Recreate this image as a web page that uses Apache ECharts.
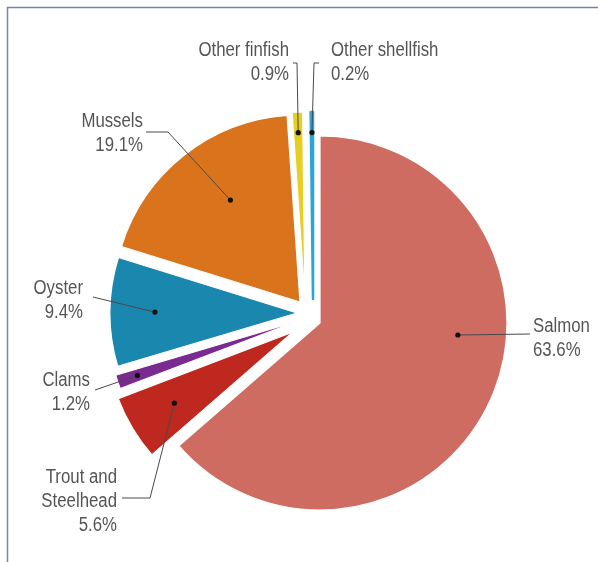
<!DOCTYPE html>
<html>
<head>
<meta charset="utf-8">
<script src="https://cdn.jsdelivr.net/npm/echarts@6/dist/echarts.min.js"></script>
<style>
  html, body { margin: 0; padding: 0; background: #ffffff; }
  #chart { width: 598px; height: 562px; }
</style>
</head>
<body>
<div id="chart"></div>
<script>
// Aquaculture production share by species group (percent)
const categories = ['Salmon', 'Trout and Steelhead', 'Clams', 'Oyster', 'Mussels', 'Other finfish', 'Other shellfish'];
const shares = [63.6, 5.6, 1.2, 9.4, 19.1, 0.9, 0.2];
const labelLines = [['Salmon'], ['Trout and', 'Steelhead'], ['Clams'], ['Oyster'], ['Mussels'], ['Other finfish'], ['Other shellfish']];

const colors = ['#cf6c62', '#bf281e', '#7a2b90', '#1a87ae', '#d9741c', '#e4cf22', '#2aa5d9'];

// Pie geometry: radius, and where each pulled-out wedge has its tip
const R = 187;
const layout = [
  { apex: [320, 323], dotR: 0.74, dotTurn: -19.5, text: { x: 533, y: 338, align: 'left' },  guide: [[530, 334]] },
  { apex: [293, 332], dotR: 0.74, dotTurn: 0,     text: { x: 117, y: 501, align: 'right' }, guide: [[150, 498], [122, 498]] },
  { apex: [295, 322], dotR: 0.89, dotTurn: 0,     text: { x: 90,  y: 392, align: 'right' }, guide: [[95, 390]] },
  { apex: [297, 313], dotR: 0.76, dotTurn: 0,     text: { x: 83,  y: 300, align: 'right' }, guide: [[93, 297]] },
  { apex: [300, 302], dotR: 0.66, dotTurn: 4,     text: { x: 143, y: 133, align: 'right' }, guide: [[168, 132], [146, 132]] },
  { apex: [305, 299], dotR: 0.89, dotTurn: 0,     text: { x: 289, y: 62,  align: 'right' }, guide: [[297, 63], [293, 63]] },
  { apex: [313, 299], dotR: 0.89, dotTurn: 0,     text: { x: 331, y: 62,  align: 'left' },  guide: [[314, 63], [319, 63]] }
];

const chart = echarts.init(document.getElementById('chart'), null, { renderer: 'canvas' });

// One pie series per wedge so every wedge can sit at its own offset
const series = categories.map((_, k) => ({
  type: 'pie',
  center: layout[k].apex,
  radius: R,
  startAngle: 90,
  clockwise: true,
  silent: true,
  animation: false,
  label: { show: false },
  labelLine: { show: false },
  emphasis: { disabled: true },
  z: 2,
  data: categories.map((name, i) => ({
    name: name,
    value: shares[i],
    itemStyle: i === k
      ? (shares[k] < 0.5
          ? { color: colors[k], borderColor: colors[k], borderWidth: 2.5 }
          : { color: colors[k], borderColor: '#ffffff', borderWidth: 1.2 })
      : { color: 'rgba(0,0,0,0)', borderWidth: 0 }
  }))
}));

// Leader lines, anchor dots and labels, placed from each wedge's angle
const total = shares.reduce((a, b) => a + b, 0);
const graphics = [];
let cum = 0;
shares.forEach((v, k) => {
  const midDeg = (cum + v / 2) / total * 360 + layout[k].dotTurn;
  cum += v;
  const a = midDeg * Math.PI / 180;
  const L = layout[k];
  const dot = [L.apex[0] + Math.sin(a) * R * L.dotR, L.apex[1] - Math.cos(a) * R * L.dotR];
  graphics.push({
    type: 'polyline', z: 10, silent: true,
    shape: { points: [dot].concat(L.guide) },
    style: { stroke: '#4a4a4a', lineWidth: 1, fill: null }
  });
  graphics.push({
    type: 'circle', z: 11, silent: true,
    shape: { cx: dot[0], cy: dot[1], r: 2.6 },
    style: { fill: '#111111' }
  });
  // Narrow lettering: regular sans squeezed horizontally about the anchor
  graphics.push({
    type: 'text', z: 12, silent: true,
    x: L.text.x, y: L.text.y,
    scaleX: 0.84,
    style: {
      x: 0, y: 0,
      text: labelLines[k].concat([v.toFixed(1) + '%']).join('\n'),
      align: L.text.align,
      verticalAlign: 'middle',
      font: '20px "Liberation Sans", Arial, sans-serif',
      lineHeight: 24,
      fill: '#555555'
    }
  });
});

// Thin frame along the top and left edges
graphics.push({ type: 'line', silent: true, shape: { x1: 7, y1: 7.5, x2: 598, y2: 7.5 }, style: { stroke: '#6f86b0', lineWidth: 1.5 } });
graphics.push({ type: 'line', silent: true, shape: { x1: 7.5, y1: 7, x2: 7.5, y2: 562 }, style: { stroke: '#6f86b0', lineWidth: 1.5 } });

chart.setOption({
  backgroundColor: '#ffffff',
  animation: false,
  series: series,
  graphic: graphics
});
</script>
</body>
</html>
